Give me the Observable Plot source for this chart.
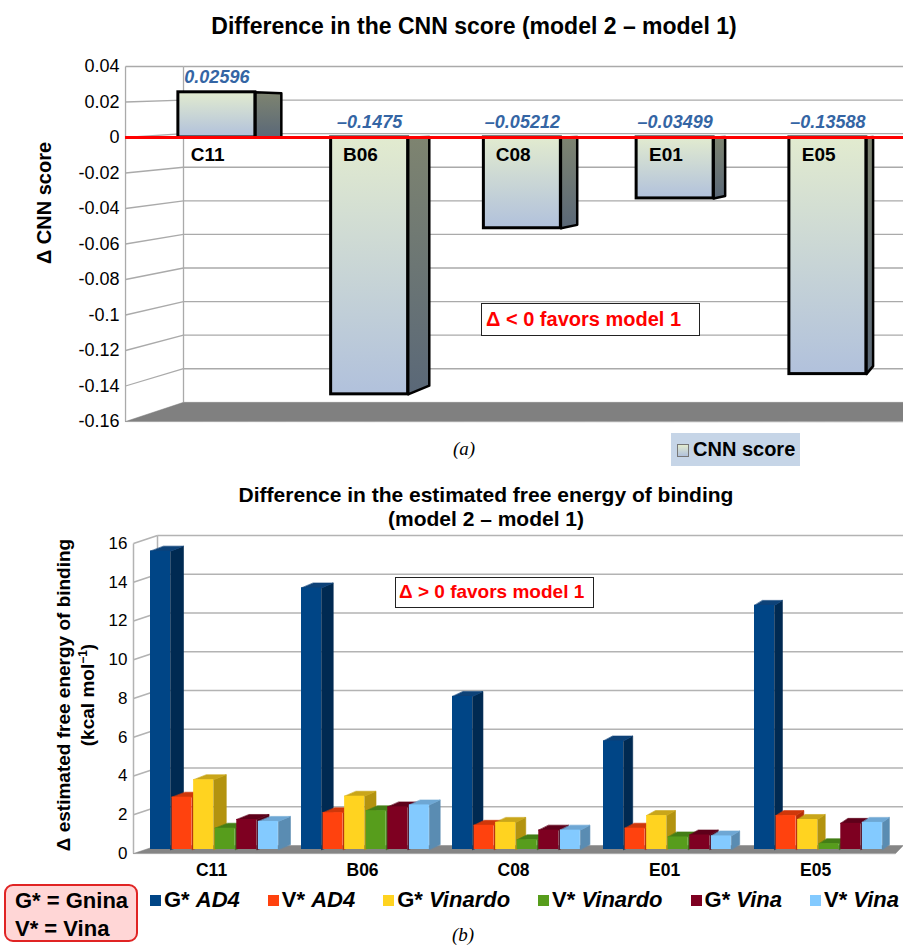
<!DOCTYPE html>
<html><head><meta charset="utf-8">
<script src="https://cdn.jsdelivr.net/npm/d3@7"></script>
<script src="https://cdn.jsdelivr.net/npm/@observablehq/plot@0.6"></script>
<style>
body{margin:0;background:#fff;}
#fig{position:relative;width:903px;height:945px;overflow:hidden;font-family:"Liberation Sans",Arial,sans-serif;background:#fff;color:#000;}
#fig svg{position:absolute;left:0;}
</style></head><body><div id="fig"></div>
<script>
// ---------- data ----------
const categories = ["C11", "B06", "C08", "E01", "E05"];
const cnnScore = [0.02596, -0.1475, -0.05212, -0.03499, -0.13588];
const cnnLabels = ["0.02596", "–0.1475", "–0.05212", "–0.03499", "–0.13588"];
const cnnTicks = [0.04, 0.02, 0, -0.02, -0.04, -0.06, -0.08, -0.1, -0.12, -0.14, -0.16];
const cnnTickLabels = ["0.04", "0.02", "0", "-0.02", "-0.04", "-0.06", "-0.08", "-0.1", "-0.12", "-0.14", "-0.16"];

const seriesPrefix = ["G*", "V*", "G*", "V*", "G*", "V*"];
const seriesModel = ["AD4", "AD4", "Vinardo", "Vinardo", "Vina", "Vina"];
const gAD4 = [15.4, 13.5, 7.9, 5.6, 12.6];
const vAD4 = [2.7, 1.9, 1.25, 1.1, 1.75];
const gVinardo = [3.6, 2.75, 1.4, 1.75, 1.55];
const vVinardo = [1.1, 2.0, 0.5, 0.65, 0.3];
const gVina = [1.55, 2.2, 1.0, 0.75, 1.35];
const vVina = [1.45, 2.3, 1.0, 0.7, 1.4];
const energyTicks = [0, 2, 4, 6, 8, 10, 12, 14, 16];
const energyTickLabels = ["0", "2", "4", "6", "8", "10", "12", "14", "16"];

const frontColors = ["#004586", "#ff420e", "#ffd320", "#579d1c", "#7e0021", "#83caff"];
const sideColors  = ["#002a52", "#b52d06", "#b3930f", "#3b6c12", "#500016", "#5a8cb2"];
const topColors   = ["#0d4278", "#cf370a", "#c9a61a", "#437e16", "#5e001a", "#6ea7d4"];

const fig = document.getElementById("fig");
const FONT = "Liberation Sans, Arial, sans-serif";

// ---------- top chart (a) ----------
const xFrontA = -0.598, xBackA = -0.2185, xEndA = 4.5;
const backA = v => 0.04 - (0.04 - v) * 0.946;   // back-wall plane
const barPlane = v => v * 0.981;                 // bar plane (slightly behind the front axis)
const halfW = 0.252;
const vp = {x: 5.65, y: 0.0096, t: 0.0315};
const proj = (x, y) => [x + (vp.x - x) * vp.t, y + (vp.y - y) * vp.t];
const cnnRows = categories.map((c, i) => ({cat: c, i, v: cnnScore[i], label: cnnLabels[i]}));
const cnnSide = cnnRows.flatMap(d => {
  const xr = d.i + halfW, yv = barPlane(d.v);
  const [a0, b0] = proj(xr, 0), [a1, b1] = proj(xr, yv);
  return [{id: d.cat, x: xr, y: 0}, {id: d.cat, x: xr, y: yv}, {id: d.cat, x: a1, y: b1}, {id: d.cat, x: a0, y: b0}];
});
const gridA = cnnTicks.filter(v => v > -0.16);
const floorA = [
  {x: xFrontA, y: -0.16}, {x: xBackA, y: backA(-0.16)}, {x: xEndA, y: backA(-0.16)}, {x: xEndA, y: -0.16}
];

const p1 = Plot.plot({
  width: 903, height: 470,
  marginLeft: 125, marginRight: 0, marginTop: 66, marginBottom: 49,
  style: {fontFamily: FONT, fontSize: "18px", color: "#000", background: "transparent"},
  x: {type: "linear", domain: [-0.5, 4.5], range: [140, 903.75], axis: null},
  y: {domain: [-0.16, 0.04], range: [421, 66]},
  marks: [
    Plot.link(gridA, {x1: xFrontA, y1: d => d, x2: xBackA, y2: d => backA(d), stroke: "#aaa", strokeWidth: 1.3}),
    Plot.link(gridA, {x1: xBackA, y1: d => backA(d), x2: xEndA, y2: d => backA(d), stroke: "#aaa", strokeWidth: 1.3}),
    Plot.link([0], {x1: xFrontA, y1: 0.04, x2: xFrontA, y2: -0.16, stroke: "#aaa", strokeWidth: 1.3}),
    Plot.link([0], {x1: xBackA, y1: backA(0.04), x2: xBackA, y2: backA(-0.16), stroke: "#aaa", strokeWidth: 1.3}),
    Plot.line(floorA, {x: "x", y: "y", curve: "linear-closed", fill: "#808080", stroke: "#808080", strokeWidth: 0.5}),
    Plot.line(cnnSide, {x: "x", y: "y", z: "id", curve: "linear-closed", fill: "url(#cnnSideGrad)", stroke: "#000", strokeWidth: 2.5, strokeLinejoin: "round"}),
    Plot.rect(cnnRows, {x1: d => d.i - halfW, x2: d => d.i + halfW, y1: 0, y2: d => barPlane(d.v), fill: "url(#cnnFrontGrad)", stroke: "#000", strokeWidth: 3}),
    Plot.ruleY([0], {x1: xFrontA, x2: xEndA, stroke: "#ff0000", strokeWidth: 3}),
    Plot.text(cnnRows, {x: d => d.i - 0.06, y: 0, dy: 17, text: "cat", fontWeight: "bold", fontSize: 19, fill: "#000"}),
    Plot.text(cnnRows, {x: "i", y: d => Math.max(barPlane(d.v), 0), dy: -15, text: "label", fill: "#3465a4", fontWeight: "bold", fontStyle: "italic", fontSize: 18}),
    Plot.axisY(cnnTicks, {tickSize: 0, tickPadding: 6, label: null, fontSize: 18, tickFormat: d => cnnTickLabels[cnnTicks.indexOf(d)]})
  ]
});
p1.style.top = "0px";
{
  const defs = d3.select(p1).insert("defs", ":first-child");
  const g1 = defs.append("linearGradient").attr("id", "cnnFrontGrad").attr("x1", 0).attr("y1", 0).attr("x2", 0).attr("y2", 1);
  g1.append("stop").attr("offset", "0%").attr("stop-color", "#e2ebcf");
  g1.append("stop").attr("offset", "100%").attr("stop-color", "#b1c1dc");
  const g2 = defs.append("linearGradient").attr("id", "cnnSideGrad").attr("x1", 0).attr("y1", 0).attr("x2", 0).attr("y2", 1);
  g2.append("stop").attr("offset", "0%").attr("stop-color", "#7e8470");
  g2.append("stop").attr("offset", "100%").attr("stop-color", "#5a6878");
}
fig.appendChild(p1);

// ---------- bottom chart (b) ----------
const xFrontB = -0.788, xBackB = 0.3245, xEndB = 35;
const off = 0.206, dyTop = 0.258, barW = 0.927;
const depth = xr => 0.611 - 0.00839 * xr;
const seriesValues = [gAD4, vAD4, gVinardo, vVinardo, gVina, vVina];
const gridB = energyTicks.filter(v => v > 0);
const floorB = [
  {x: xFrontB, y: -off}, {x: xBackB, y: off}, {x: 34.9, y: off}, {x: 34.54, y: -off}
];
const barMarks = [];
seriesValues.forEach((vals, s) => {
  const rows = vals.map((v, g) => ({s, g, v, xl: 7 * g + s, xr: 7 * g + s + barW}));
  const side = rows.flatMap(d => {
    const dx = depth(d.xr);
    return [{id: d.g, x: d.xr, y: 0}, {id: d.g, x: d.xr, y: d.v}, {id: d.g, x: d.xr + dx, y: d.v + dyTop}, {id: d.g, x: d.xr + dx, y: dyTop}];
  });
  const top = rows.flatMap(d => {
    const dx = depth(d.xr);
    return [{id: d.g, x: d.xl, y: d.v}, {id: d.g, x: d.xr, y: d.v}, {id: d.g, x: d.xr + dx, y: d.v + dyTop}, {id: d.g, x: d.xl + depth(d.xl), y: d.v + dyTop}];
  });
  barMarks.push(
    Plot.line(side, {x: "x", y: "y", z: "id", curve: "linear-closed", fill: sideColors[s], stroke: sideColors[s], strokeWidth: 0.6}),
    Plot.line(top, {x: "x", y: "y", z: "id", curve: "linear-closed", fill: topColors[s], stroke: topColors[s], strokeWidth: 0.6}),
    Plot.rect(rows, {x1: "xl", x2: "xr", y1: 0, y2: "v", fill: frontColors[s]})
  );
});

const p2 = Plot.plot({
  width: 903, height: 475,
  marginLeft: 133, marginRight: 0, marginTop: 69, marginBottom: 96,
  style: {fontFamily: FONT, fontSize: "17px", color: "#000", background: "transparent"},
  x: {type: "linear", domain: [0, 35], range: [150, 905], axis: null},
  y: {domain: [0, 16], range: [379, 69]},
  marks: [
    Plot.link(gridB, {x1: xFrontB, y1: d => d - off, x2: xBackB, y2: d => d + off, stroke: "#b3b3b3", strokeWidth: 1.5}),
    Plot.link(gridB, {x1: xBackB, y1: d => d + off, x2: xEndB, y2: d => d + off, stroke: "#b3b3b3", strokeWidth: 1.5}),
    Plot.link([0], {x1: xFrontB, y1: -off, x2: xFrontB, y2: 16 - off, stroke: "#b3b3b3", strokeWidth: 1.5}),
    Plot.link([0], {x1: xBackB, y1: off, x2: xBackB, y2: 16 + off, stroke: "#b3b3b3", strokeWidth: 1.5}),
    Plot.line(floorB, {x: "x", y: "y", curve: "linear-closed", fill: "#858585", stroke: "#858585", strokeWidth: 0.5}),
    ...barMarks,
    Plot.text(categories, {x: (d, i) => 7 * i + 2.83, y: 0, dy: 21, text: d => d, fontWeight: "bold", fontSize: 17.5, fill: "#000"}),
    Plot.axisY(energyTicks, {tickSize: 0, tickPadding: 6, dy: 4, label: null, fontSize: 17, tickFormat: d => energyTickLabels[energyTicks.indexOf(d)]})
  ]
});
p2.style.top = "470px";
fig.appendChild(p2);

// ---------- HTML text, legends, annotations ----------
function add(html, css) {
  const d = document.createElement("div");
  d.innerHTML = html;
  Object.assign(d.style, css);
  fig.appendChild(d);
  return d;
}
add("Difference in the CNN score (model 2 – model 1)", {position: "absolute", left: "474px", top: "26px", transform: "translate(-50%,-50%)", fontWeight: "bold", fontSize: "23px", whiteSpace: "nowrap"});
add("Δ CNN score", {position: "absolute", left: "44px", top: "203px", transform: "translate(-50%,-50%) rotate(-90deg)", fontWeight: "bold", fontSize: "20px", whiteSpace: "nowrap"});
add("Δ &lt; 0 favors model 1", {position: "absolute", left: "481px", top: "303px", width: "219px", height: "33px", boxSizing: "border-box", border: "1.5px solid #222", background: "#fff", color: "#ff0000", fontWeight: "bold", fontSize: "20px", lineHeight: "30px", paddingLeft: "4px", whiteSpace: "nowrap"});
add("(a)", {position: "absolute", left: "464px", top: "449px", transform: "translate(-50%,-50%)", fontFamily: "Liberation Serif, serif", fontStyle: "italic", fontSize: "19px"});
add('<span style="position:absolute;left:6px;top:11px;width:10px;height:11px;border:1px solid #777;background:linear-gradient(#e2ebcf,#b1c1dc)"></span><span style="position:absolute;left:22px;top:16px;transform:translateY(-50%);font-weight:bold;font-size:20px;white-space:nowrap">CNN score</span>',
  {position: "absolute", left: "671px", top: "433px", width: "129px", height: "33px", background: "#c6d5e7"});

add("Difference in the estimated free energy of binding<br>(model 2 – model 1)", {position: "absolute", left: "486px", top: "507px", transform: "translate(-50%,-50%)", fontWeight: "bold", fontSize: "21px", lineHeight: "24px", textAlign: "center", whiteSpace: "nowrap"});
add('Δ estimated free energy of binding<br>(kcal mol<sup style="font-size:12px;line-height:0">−1</sup>)', {position: "absolute", left: "76px", top: "695px", transform: "translate(-50%,-50%) rotate(-90deg)", fontWeight: "bold", fontSize: "19px", lineHeight: "24px", textAlign: "center", whiteSpace: "nowrap"});
add("Δ &gt; 0 favors model 1", {position: "absolute", left: "395px", top: "577px", width: "199px", height: "31px", boxSizing: "border-box", border: "1.5px solid #222", background: "#fff", color: "#ff0000", fontWeight: "bold", fontSize: "19px", lineHeight: "28px", paddingLeft: "3px", whiteSpace: "nowrap"});

const legItems = seriesPrefix.map((p, i) =>
  `<span style="display:inline-flex;align-items:center;margin-right:28px"><span style="display:inline-block;width:11px;height:11px;background:${frontColors[i]};margin-right:3px"></span><span>${p} <i>${seriesModel[i]}</i></span></span>`).join("");
add(legItems, {position: "absolute", left: "150px", top: "900px", transform: "translateY(-50%)", display: "flex", fontWeight: "bold", fontSize: "22px", whiteSpace: "nowrap"});
add('<div style="position:absolute;left:9px;top:15px;transform:translateY(-50%)">G* = Gnina</div><div style="position:absolute;left:9px;top:43px;transform:translateY(-50%)">V* = Vina</div>',
  {position: "absolute", left: "4px", top: "884px", width: "134px", height: "58px", boxSizing: "border-box", border: "2px solid #e02424", borderRadius: "9px", background: "#ffd6d6", fontWeight: "bold", fontSize: "22px", whiteSpace: "nowrap"});
add("(b)", {position: "absolute", left: "463px", top: "935px", transform: "translate(-50%,-50%)", fontFamily: "Liberation Serif, serif", fontStyle: "italic", fontSize: "19px"});
</script></body></html>
